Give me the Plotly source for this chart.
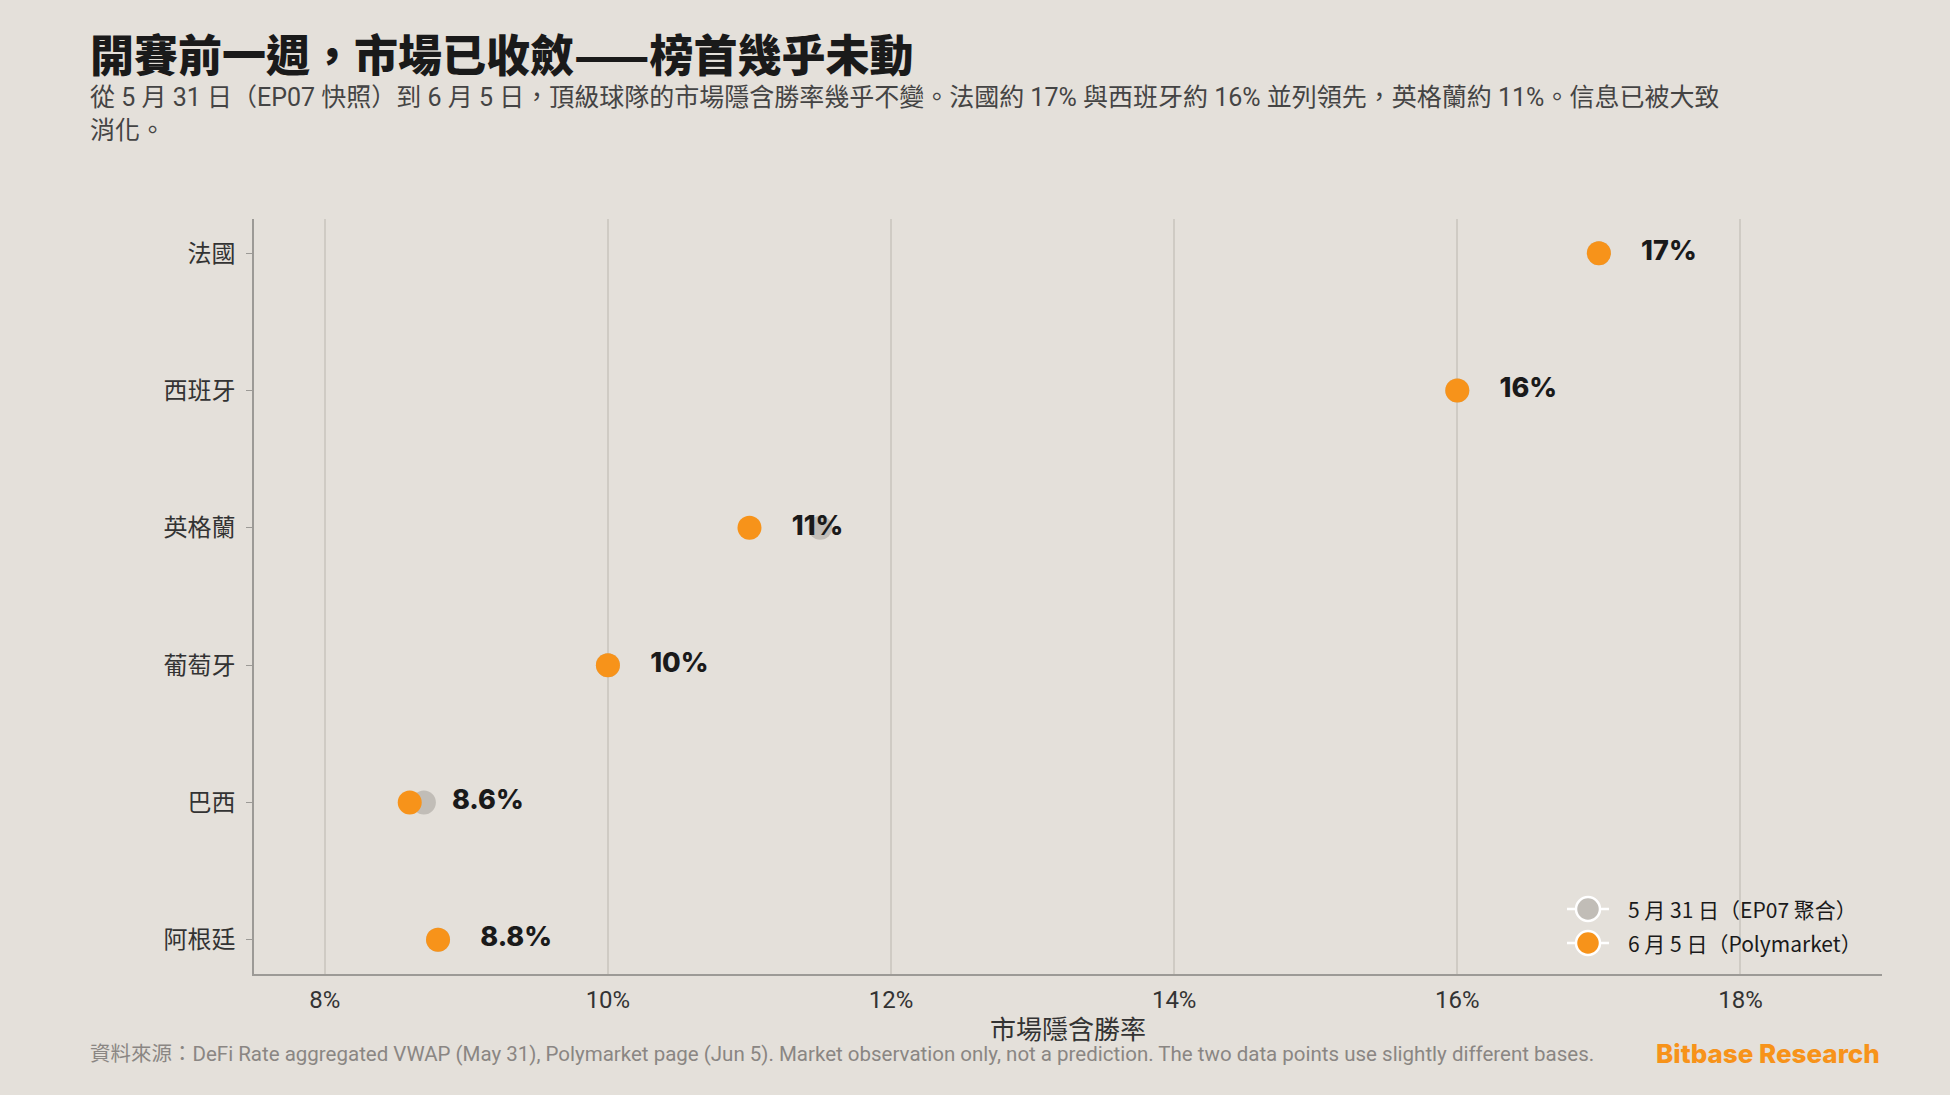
import plotly.graph_objects as go

teams = ["法國", "西班牙", "英格蘭", "葡萄牙", "巴西", "阿根廷"]
may31 = [17.0, 16.0, 11.5, 10.0, 8.7, 8.8]
jun5 = [17.0, 16.0, 11.0, 10.0, 8.6, 8.8]
x_ticks = [8, 10, 12, 14, 16, 18]
x_tick_labels = ["8%", "10%", "12%", "14%", "16%", "18%"]
series_names = ["5 月 31 日（EP07 聚合）", "6 月 5 日（Polymarket）"]

BG = "#e4e0da"
ORANGE = "#f7931a"
GRAY = "#c1bdb7"
CJK = "Noto Sans CJK TC"
LAT = "Roboto, Noto Sans CJK TC"

W, H = 1950, 1095
L, R, T, B = 254, 1882, 219, 974


def px(xp):
    return (xp - L) / (R - L)


def py(yp):
    return (B - yp) / (B - T)


fig = go.Figure()
fig.add_trace(go.Scatter(x=may31, y=teams, mode="markers", name=series_names[0],
                         marker=dict(size=24, color=GRAY), showlegend=False,
                         hoverinfo="skip"))
fig.add_trace(go.Scatter(x=jun5, y=teams, mode="markers", name=series_names[1],
                         marker=dict(size=24, color=ORANGE), showlegend=False,
                         hoverinfo="skip"))
# value labels: invisible large marker pushes the text ~42px to the right of the dot
fig.add_trace(go.Scatter(x=jun5, y=teams, mode="markers+text",
                         text=[f"{v:g}%" for v in jun5], textposition="middle right",
                         marker=dict(size=66, color="rgba(0,0,0,0)"),
                         textfont=dict(family="Inter, Lato", size=27, color="#1a1a1a", weight=800),
                         showlegend=False, hoverinfo="skip"))

annotations = []
# custom legend (larger symbols than plotly's built-in legend allows)
shapes = []
leg_rows = [909, 943]
leg_cx, leg_r = 1588, 12
for name, col, yc in zip(series_names, [GRAY, ORANGE], leg_rows):
    shapes.append(dict(type="line", xref="paper", yref="paper",
                       x0=px(1567), x1=px(1609), y0=py(yc), y1=py(yc),
                       line=dict(color="white", width=2.5)))
    shapes.append(dict(type="circle", xref="paper", yref="paper",
                       x0=px(leg_cx - leg_r), x1=px(leg_cx + leg_r),
                       y0=py(yc + leg_r), y1=py(yc - leg_r),
                       fillcolor=col, line=dict(color="white", width=2.5)))
    annotations.append(dict(x=px(1626), y=py(yc), xref="paper", yref="paper",
                            xanchor="left", yanchor="middle", text=name, showarrow=False,
                            font=dict(family=CJK, size=21, color="#1a1a1a")))

annotations += [
    dict(x=px(88), y=py(53), xref="paper", yref="paper", xanchor="left", yanchor="middle",
         text="開賽前一週，市場已收斂——榜首幾乎未動", showarrow=False,
         font=dict(family=CJK, size=44, color="#1a1a1a", weight=900)),
    dict(x=px(88), y=py(81), xref="paper", yref="paper", xanchor="left", yanchor="top",
         align="left",
         text="從 5 月 31 日（EP07 快照）到 6 月 5 日，頂級球隊的市場隱含勝率幾乎不變。法國約 17% 與西班牙約 16% 並列領先，英格蘭約 11%。信息已被大致<br>消化。",
         showarrow=False, font=dict(family=LAT, size=25, color="#444444")),
    dict(x=0.5, y=py(1030), xref="paper", yref="paper", xanchor="center", yanchor="middle",
         text="市場隱含勝率", showarrow=False, font=dict(family=LAT, size=26, color="#333333")),
    dict(x=px(88), y=py(1054), xref="paper", yref="paper", xanchor="left", yanchor="middle",
         text="資料來源：DeFi Rate aggregated VWAP (May 31), Polymarket page (Jun 5). Market observation only, not a prediction. The two data points use slightly different bases.",
         showarrow=False, font=dict(family=LAT, size=20.5, color="#8a8683")),
    dict(x=1, y=py(1053), xref="paper", yref="paper", xanchor="right", yanchor="middle",
         text="Bitbase Research", showarrow=False,
         font=dict(family="Inter, Lato", size=26, color=ORANGE, weight=800)),
]

fig.update_layout(
    width=W, height=H,
    margin=dict(l=L, r=W - R, t=T, b=H - B),
    paper_bgcolor=BG, plot_bgcolor=BG,
    annotations=annotations,
    shapes=shapes,
    showlegend=False,
    xaxis=dict(range=[7.5, 19], tickvals=x_ticks, ticktext=x_tick_labels,
               showgrid=True, gridcolor="#cfcbc4", gridwidth=1.5, zeroline=False,
               showline=True, linecolor="#9c9a96", linewidth=1.5,
               tickfont=dict(family=LAT, size=24, color="#333333"), ticks="",
               ticklabelstandoff=3),
    yaxis=dict(range=[5.25, -0.25], categoryorder="array", categoryarray=teams,
               showgrid=False, zeroline=False, showline=True, linecolor="#9c9a96",
               linewidth=1.5, ticks="outside", ticklen=6, tickcolor="#9c9a96",
               tickfont=dict(family=CJK, size=24, color="#333333"), ticklabelstandoff=6),
)

fig.write_html("out.html")
